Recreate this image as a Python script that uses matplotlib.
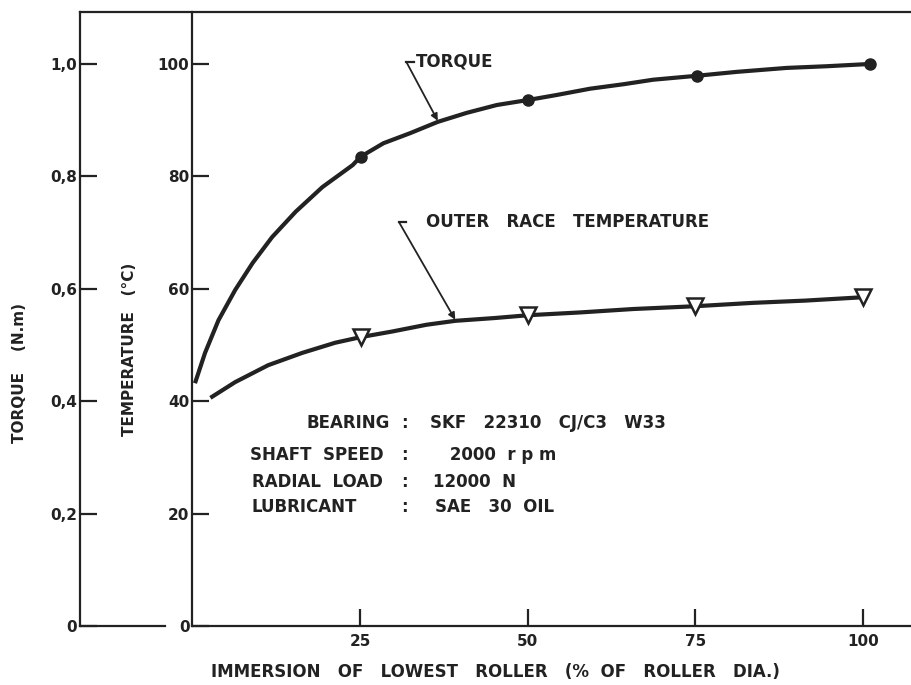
import matplotlib.pyplot as plt

# points (x = % immersion)
torque_curve_x = [0.4, 1.9, 3.9, 6.4, 9.0, 11.9, 15.4, 19.4, 23.9, 25.1, 28.5, 32.5, 36.6,
                  40.9, 45.4, 50.1, 54.4, 59.3, 64.3, 68.7, 75.2, 81.2, 88.6, 94.6, 101.0]
torque_curve_y = [0.432, 0.486, 0.544, 0.598, 0.646, 0.692, 0.737, 0.781, 0.820, 0.835, 0.859,
                  0.877, 0.897, 0.913, 0.927, 0.936, 0.945, 0.956, 0.964, 0.972, 0.979, 0.986,
                  0.993, 0.996, 1.0]
temp_curve_x = [2.7, 6.4, 11.3, 16.4, 21.3, 25.1, 29.8, 34.9, 39.2, 45.1, 50.1, 57.9, 65.7,
                75.0, 83.6, 91.4, 100.0]
temp_curve_y = [40.6, 43.4, 46.4, 48.6, 50.4, 51.4, 52.4, 53.6, 54.3, 54.8, 55.3, 55.8, 56.4,
                56.9, 57.5, 57.9, 58.5]

# measured points
torque_x = [25.1, 50.1, 75.2, 101.0]
torque_y = [0.835, 0.936, 0.979, 1.0]
temp_x = [25.1, 50.1, 75.0, 100.0]
temp_y = [51.4, 55.3, 56.9, 58.5]

temp_ticks = [0, 20, 40, 60, 80, 100]
torque_ticks = [0, 0.2, 0.4, 0.6, 0.8, 1.0]
torque_labels = ['0', '0,2', '0,4', '0,6', '0,8', '1,0']
x_ticks = [25, 50, 75, 100]

info_keys = ['BEARING', 'SHAFT  SPEED', 'RADIAL  LOAD', 'LUBRICANT']
info_vals = ['SKF   22310   CJ/C3   W33', ' 2000  r p m', '12000  N', 'SAE   30  OIL']

ink = '#222222'
W, H = 912, 685
plt.rcParams['font.family'] = 'DejaVu Sans'
plt.rcParams['font.weight'] = 'bold'

fig = plt.figure(figsize=(W / 100, H / 100), dpi=100)

def fx(px):
    return px / W

def fy(py):
    return 1 - py / H

# outer torque scale
ax_t = fig.add_axes([fx(80), fy(626), (W - 80) / W, (626 - 12) / H])
ax_t.set_xlim(0, 1)
ax_t.set_ylim(0, 1.0925)
ax_t.spines['right'].set_visible(False)
ax_t.spines['bottom'].set_bounds(0, (165 - 80) / (W - 80))
for s in ax_t.spines.values():
    s.set_linewidth(1.6)
    s.set_color(ink)
ax_t.set_xticks([])
ax_t.set_yticks(torque_ticks)
ax_t.set_yticklabels(torque_labels)
ax_t.tick_params(axis='y', direction='in', length=12, width=1.6, pad=2,
                 labelsize=11, colors=ink)

# main temperature axes
ax = fig.add_axes([fx(192.3), fy(626), (W - 192.3) / W, (626 - 12) / H])
ax.patch.set_alpha(0)
ax.set_xlim(0, (W - 192.3) / 6.707)
ax.set_ylim(0, 614 / 5.62)
ax.spines['top'].set_visible(False)
ax.spines['right'].set_visible(False)
for s in ax.spines.values():
    s.set_linewidth(1.6)
    s.set_color(ink)
ax.set_xticks(x_ticks)
ax.set_yticks(temp_ticks)
ax.tick_params(direction='in', length=12, width=1.6, labelsize=11, colors=ink)
ax.tick_params(axis='y', pad=2)
ax.tick_params(axis='x', pad=6)

ax2 = ax.twinx()
ax2.set_ylim(0, 1.0925)
ax2.set_yticks([])
for s in ax2.spines.values():
    s.set_visible(False)

ax2.plot(torque_curve_x, torque_curve_y, color=ink, lw=3, solid_capstyle='butt',
         solid_joinstyle='round')
ax2.plot(torque_x, torque_y, 'o', color=ink, ms=8)
ax.plot(temp_curve_x, temp_curve_y, color=ink, lw=3, solid_capstyle='butt',
        solid_joinstyle='round')
ax.plot(temp_x, temp_y, 'v', mfc='white', mec=ink, mew=1.8, ms=11)

# leaders and labels
fs = 12
ax.text(33.3, 100.4, 'TORQUE', fontsize=fs, color=ink, va='center', ha='left')
ax.plot([31.9, 33.0], [100.4, 100.4], color=ink, lw=1.6)
ax.annotate('', xy=(36.6, 89.9), xytext=(31.9, 100.4),
            arrowprops=dict(arrowstyle='-|>', color=ink, lw=1.3, mutation_scale=10,
                            shrinkA=0, shrinkB=0))
ax.text(34.9, 71.9, 'OUTER   RACE   TEMPERATURE', fontsize=fs, color=ink,
        va='center', ha='left')
ax.plot([30.8, 31.9], [71.9, 71.9], color=ink, lw=1.6)
ax.annotate('', xy=(39.2, 54.5), xytext=(30.8, 71.9),
            arrowprops=dict(arrowstyle='-|>', color=ink, lw=1.3, mutation_scale=10,
                            shrinkA=0, shrinkB=0))

key_x = [29.5, 8.6, 8.9, 8.9]
key_ha = ['right', 'left', 'left', 'left']
row_y = [36.1, 30.4, 25.6, 21.2]
val_x = [35.4, 37.5, 35.9, 36.2]
for k, v, kx, ha, yy, vx in zip(info_keys, info_vals, key_x, key_ha, row_y, val_x):
    ax.text(kx, yy, k, fontsize=fs, color=ink, ha=ha, va='center')
    ax.text(31.6, yy, ':', fontsize=fs, color=ink, ha='center', va='center')
    ax.text(vx, yy, v, fontsize=fs, color=ink, ha='left', va='center')

fig.text(fx(20), fy(373), 'TORQUE    (N.m)', rotation=90, fontsize=11,
         color=ink, ha='center', va='center')
fig.text(fx(130), fy(349), 'TEMPERATURE   (°C)', rotation=90, fontsize=11,
         color=ink, ha='center', va='center')
fig.text(fx(495), fy(672), 'IMMERSION   OF   LOWEST   ROLLER   (%  OF   ROLLER   DIA.)',
         fontsize=fs, color=ink, ha='center', va='center')

fig.savefig('out.png', dpi=100)
